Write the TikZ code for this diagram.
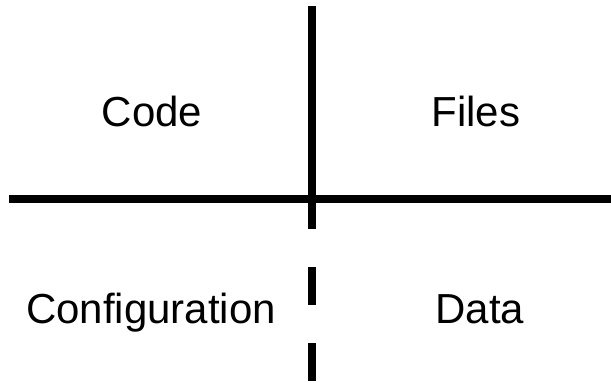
\documentclass[tikz,border=0pt]{standalone}
\usepackage{fontspec}
\setmainfont{Liberation Sans}
\begin{document}
\begin{tikzpicture}[x=1pt,y=-1pt,
  lbl/.style={anchor=base,inner sep=0pt,font=\fontsize{42}{48}\selectfont},
  thick line/.style={line width=8pt,line cap=butt,black}]
\useasboundingbox (0,0) rectangle (611,383);
\coordinate (vt) at (312,6);
\coordinate (vm) at (312,199);
\coordinate (vd) at (312,191);
\coordinate (vb) at (312,381);
\coordinate (hl) at (9,199);
\coordinate (hr) at (611,199);
\draw[thick line] (vt) -- (vm);
\draw[thick line,dash pattern=on 38pt off 38pt] (vd) -- (vb);
\draw[thick line] (hl) -- (hr);
\node[lbl] (code) at (152,126) {Code};
\node[lbl] (files) at (476,126) {Files};
\node[lbl] (conf) at (151,323) {Configuration};
\node[lbl] (data) at (480,323) {Data};
\end{tikzpicture}
\end{document}
